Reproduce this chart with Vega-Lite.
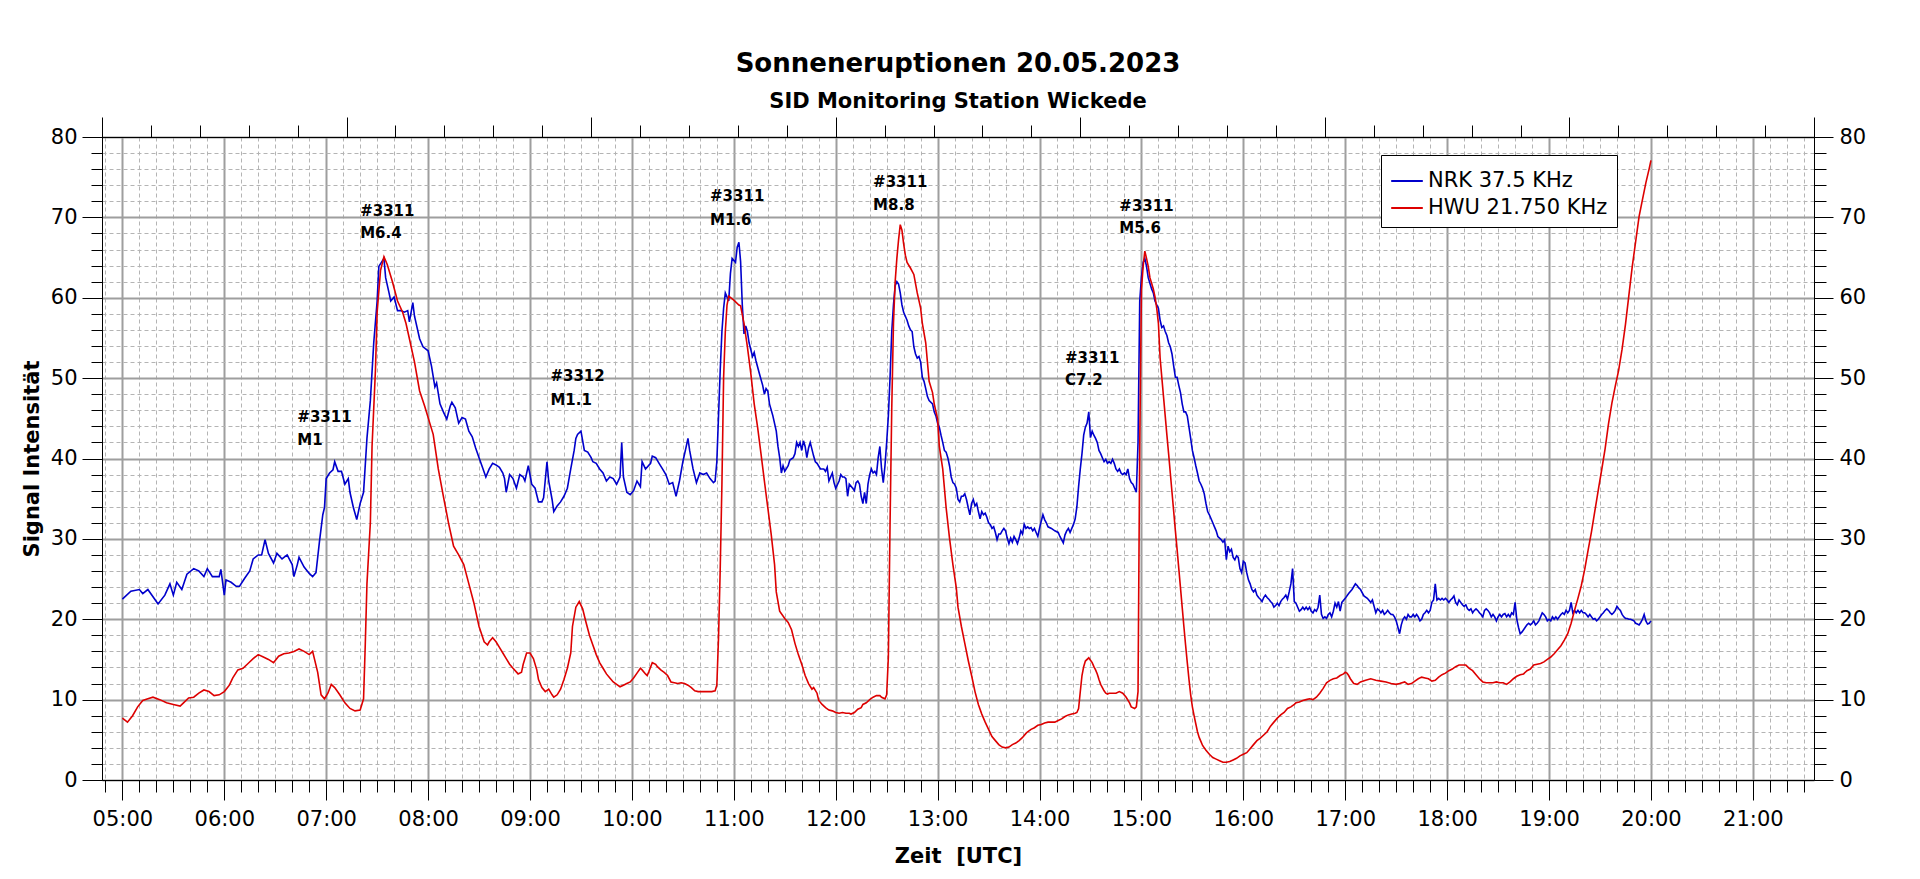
{
  "$schema": "https://vega.github.io/schema/vega-lite/v6.json",
  "width": 1712,
  "height": 643,
  "autosize": "none",
  "padding": {"left": 102, "top": 137, "right": 106, "bottom": 99},
  "background": "white",
  "title": {
    "text": "Sonneneruptionen 20.05.2023",
    "subtitle": "SID Monitoring Station Wickede",
    "anchor": "middle",
    "frame": "group",
    "font": "DejaVu Sans",
    "fontSize": 26,
    "fontWeight": "bold",
    "color": "black",
    "subtitleFont": "DejaVu Sans",
    "subtitleFontSize": 21,
    "subtitleFontWeight": "bold",
    "subtitleColor": "black",
    "subtitlePadding": 14,
    "offset": 5
  },
  "config": {
    "view": {"stroke": "black", "strokeWidth": 1},
    "axis": {
      "labelFont": "DejaVu Sans",
      "labelFontSize": 21,
      "labelColor": "black",
      "domainColor": "black",
      "tickColor": "black",
      "titleFont": "DejaVu Sans",
      "titleFontSize": 21,
      "titleFontWeight": "bold",
      "titleColor": "black"
    }
  },
  "resolve": {"axis": {"x": "independent", "y": "independent"}},
  "layer": [
    {
      "data": {
        "values": [
          {"m":300,"v":22.5},{"m":305,"v":23.5},{"m":310,"v":23.7},{"m":312,"v":23.2},{"m":315,"v":23.7},
          {"m":320,"v":22.2},{"m":321,"v":21.9},{"m":325,"v":23.0},{"m":328,"v":24.4},{"m":330,"v":23.0},
          {"m":332,"v":24.6},{"m":335,"v":23.7},{"m":338,"v":25.6},{"m":342,"v":26.3},{"m":345,"v":26.0},
          {"m":348,"v":25.3},{"m":350,"v":26.3},{"m":353,"v":25.3},{"m":357,"v":25.3},{"m":358,"v":26.2},
          {"m":360,"v":23.0},{"m":361,"v":24.9},{"m":364,"v":24.6},{"m":367,"v":24.1},{"m":369,"v":24.1},
          {"m":372,"v":25.1},{"m":375,"v":26.0},{"m":377,"v":27.5},{"m":380,"v":28.0},{"m":382,"v":28.0},
          {"m":384,"v":29.9},{"m":386,"v":28.2},{"m":389,"v":27.0},{"m":391,"v":28.2},{"m":394,"v":27.5},
          {"m":397,"v":28.0},{"m":400,"v":26.8},{"m":401,"v":25.3},{"m":403,"v":26.8},{"m":404,"v":27.7},
          {"m":407,"v":26.5},{"m":410,"v":25.7},{"m":412,"v":25.3},{"m":414,"v":25.8},{"m":416,"v":29.6},
          {"m":418,"v":33.0},{"m":419,"v":33.9},{"m":420,"v":37.5},{"m":422,"v":38.2},{"m":424,"v":38.6},
          {"m":425,"v":39.6},{"m":427,"v":38.4},{"m":429,"v":38.4},{"m":431,"v":36.8},{"m":433,"v":37.5},
          {"m":434,"v":35.8},{"m":436,"v":33.9},{"m":438,"v":32.4},{"m":440,"v":34.4},{"m":442,"v":35.8},
          {"m":444,"v":42.5},{"m":446,"v":47.2},{"m":448,"v":54.4},{"m":450,"v":59.6},{"m":451,"v":63.9},
          {"m":454,"v":64.9},{"m":455,"v":62.5},{"m":457,"v":60.6},{"m":458,"v":59.6},{"m":460,"v":60.1},
          {"m":462,"v":58.4},{"m":464,"v":58.4},{"m":466,"v":58.2},{"m":468,"v":58.4},{"m":469,"v":57.0},
          {"m":471,"v":59.4},{"m":472,"v":57.7},{"m":475,"v":54.9},{"m":477,"v":53.9},{"m":480,"v":53.4},
          {"m":482,"v":51.5},{"m":484,"v":48.9},{"m":485,"v":49.4},{"m":487,"v":46.8},{"m":489,"v":45.8},
          {"m":491,"v":44.9},{"m":493,"v":46.5},{"m":494,"v":47.0},{"m":496,"v":46.3},{"m":498,"v":44.4},
          {"m":500,"v":45.1},{"m":502,"v":44.9},{"m":504,"v":43.4},{"m":506,"v":42.7},{"m":508,"v":41.3},
          {"m":510,"v":40.1},{"m":512,"v":38.9},{"m":514,"v":37.7},{"m":516,"v":38.7},{"m":518,"v":39.4},
          {"m":520,"v":39.2},{"m":522,"v":38.9},{"m":524,"v":38.2},{"m":525,"v":37.5},{"m":526,"v":35.8},
          {"m":528,"v":38.0},{"m":530,"v":37.5},{"m":532,"v":36.3},{"m":534,"v":38.0},{"m":536,"v":37.7},
          {"m":537,"v":37.2},{"m":539,"v":39.1},{"m":541,"v":36.8},{"m":543,"v":36.3},{"m":545,"v":34.6},
          {"m":547,"v":34.6},{"m":548,"v":35.1},{"m":550,"v":39.6},{"m":551,"v":37.2},{"m":553,"v":34.9},
          {"m":554,"v":33.4},{"m":556,"v":34.1},{"m":558,"v":34.6},{"m":560,"v":35.3},{"m":562,"v":36.3},
          {"m":564,"v":38.7},{"m":566,"v":41.0},{"m":567,"v":42.5},{"m":568,"v":43.0},{"m":570,"v":43.4},
          {"m":572,"v":41.0},{"m":574,"v":40.8},{"m":576,"v":40.1},{"m":577,"v":39.6},{"m":579,"v":39.4},
          {"m":581,"v":38.7},{"m":583,"v":38.2},{"m":585,"v":37.2},{"m":587,"v":37.7},{"m":589,"v":37.5},
          {"m":591,"v":36.8},{"m":593,"v":37.7},{"m":594,"v":42.0},{"m":595,"v":37.7},{"m":597,"v":35.8},
          {"m":599,"v":35.5},{"m":601,"v":36.0},{"m":603,"v":37.2},{"m":605,"v":36.5},{"m":606,"v":39.6},
          {"m":608,"v":38.7},{"m":611,"v":39.4},{"m":612,"v":40.3},{"m":614,"v":40.1},{"m":616,"v":39.4},
          {"m":618,"v":38.7},{"m":620,"v":38.0},{"m":622,"v":36.8},{"m":624,"v":37.0},{"m":626,"v":35.3},
          {"m":628,"v":37.2},{"m":630,"v":39.6},{"m":632,"v":41.5},{"m":633,"v":42.5},{"m":634,"v":41.0},
          {"m":636,"v":38.7},{"m":638,"v":37.0},{"m":640,"v":38.2},{"m":642,"v":38.0},{"m":644,"v":38.2},
          {"m":646,"v":37.5},{"m":648,"v":37.0},{"m":649,"v":37.2},{"m":650,"v":39.6},{"m":651,"v":45.3},
          {"m":652,"v":51.0},{"m":653,"v":55.8},{"m":654,"v":58.7},{"m":655,"v":60.6},{"m":657,"v":59.6},
          {"m":658,"v":63.0},{"m":659,"v":64.9},{"m":661,"v":64.4},{"m":662,"v":66.3},{"m":663,"v":66.9},
          {"m":664,"v":64.5},{"m":665,"v":59.1},{"m":666,"v":55.5},{"m":667,"v":56.5},{"m":668,"v":55.8},
          {"m":669,"v":54.4},{"m":671,"v":52.7},{"m":672,"v":53.2},{"m":673,"v":52.2},{"m":675,"v":50.6},
          {"m":677,"v":49.1},{"m":678,"v":48.0},{"m":679,"v":48.7},{"m":680,"v":48.4},{"m":681,"v":46.8},
          {"m":683,"v":45.3},{"m":685,"v":43.4},{"m":686,"v":41.5},{"m":687,"v":40.1},{"m":688,"v":38.2},
          {"m":689,"v":39.1},{"m":690,"v":38.4},{"m":692,"v":39.1},{"m":693,"v":39.8},{"m":695,"v":40.1},
          {"m":696,"v":40.6},{"m":697,"v":42.0},{"m":698,"v":41.5},{"m":699,"v":42.0},{"m":700,"v":41.0},
          {"m":701,"v":42.2},{"m":702,"v":41.5},{"m":703,"v":40.1},{"m":704,"v":41.3},{"m":705,"v":42.0},
          {"m":707,"v":40.3},{"m":708,"v":39.6},{"m":709,"v":39.4},{"m":711,"v":38.7},{"m":713,"v":38.7},
          {"m":714,"v":38.4},{"m":715,"v":38.9},{"m":716,"v":37.2},{"m":718,"v":38.2},{"m":719,"v":37.0},
          {"m":720,"v":36.3},{"m":722,"v":37.2},{"m":723,"v":38.0},{"m":724,"v":37.7},{"m":725,"v":37.7},
          {"m":726,"v":37.5},{"m":727,"v":35.3},{"m":728,"v":36.8},{"m":730,"v":36.3},{"m":731,"v":36.0},
          {"m":732,"v":37.0},{"m":733,"v":37.2},{"m":734,"v":36.8},{"m":735,"v":35.3},{"m":736,"v":34.4},
          {"m":737,"v":35.8},{"m":738,"v":34.4},{"m":739,"v":36.8},{"m":740,"v":38.0},{"m":741,"v":38.7},
          {"m":742,"v":38.2},{"m":743,"v":38.4},{"m":744,"v":38.0},{"m":745,"v":40.1},{"m":746,"v":41.5},
          {"m":747,"v":38.7},{"m":748,"v":37.0},{"m":749,"v":39.1},{"m":750,"v":42.0},{"m":751,"v":45.3},
          {"m":752,"v":50.1},{"m":753,"v":55.8},{"m":754,"v":59.1},{"m":755,"v":61.5},{"m":756,"v":62.0},
          {"m":757,"v":61.7},{"m":758,"v":60.6},{"m":759,"v":59.1},{"m":760,"v":58.2},{"m":762,"v":57.2},
          {"m":763,"v":56.5},{"m":764,"v":56.0},{"m":765,"v":55.8},{"m":766,"v":53.9},{"m":767,"v":53.0},
          {"m":768,"v":52.5},{"m":769,"v":52.7},{"m":770,"v":52.0},{"m":771,"v":50.1},{"m":772,"v":49.6},
          {"m":773,"v":48.7},{"m":774,"v":47.7},{"m":775,"v":47.2},{"m":777,"v":46.8},{"m":778,"v":45.8},
          {"m":779,"v":45.3},{"m":780,"v":44.4},{"m":781,"v":43.9},{"m":782,"v":42.9},{"m":783,"v":42.0},
          {"m":784,"v":41.0},{"m":785,"v":40.8},{"m":786,"v":40.1},{"m":787,"v":39.1},{"m":788,"v":37.7},
          {"m":789,"v":37.0},{"m":790,"v":36.8},{"m":791,"v":36.3},{"m":792,"v":34.9},{"m":793,"v":34.6},
          {"m":794,"v":35.3},{"m":795,"v":35.3},{"m":796,"v":35.6},{"m":797,"v":34.9},{"m":798,"v":33.9},
          {"m":799,"v":33.0},{"m":800,"v":34.4},{"m":801,"v":34.9},{"m":802,"v":34.1},{"m":803,"v":34.4},
          {"m":804,"v":33.4},{"m":805,"v":32.5},{"m":806,"v":33.4},{"m":807,"v":33.0},{"m":808,"v":33.2},
          {"m":809,"v":32.7},{"m":810,"v":32.0},{"m":811,"v":31.8},{"m":812,"v":31.3},{"m":813,"v":31.5},
          {"m":814,"v":30.8},{"m":815,"v":29.9},{"m":816,"v":30.6},{"m":817,"v":30.6},{"m":818,"v":31.0},
          {"m":819,"v":31.3},{"m":820,"v":31.0},{"m":821,"v":30.1},{"m":822,"v":29.4},{"m":823,"v":30.1},
          {"m":824,"v":29.6},{"m":825,"v":30.3},{"m":826,"v":29.9},{"m":827,"v":29.4},{"m":828,"v":30.1},
          {"m":829,"v":31.0},{"m":830,"v":30.6},{"m":831,"v":31.8},{"m":832,"v":31.3},{"m":833,"v":31.5},
          {"m":834,"v":31.3},{"m":835,"v":31.4},{"m":836,"v":31.0},{"m":837,"v":31.3},{"m":838,"v":30.8},
          {"m":839,"v":30.3},{"m":840,"v":31.3},{"m":841,"v":32.2},{"m":842,"v":33.0},{"m":843,"v":32.4},
          {"m":844,"v":32.0},{"m":845,"v":31.5},{"m":847,"v":31.3},{"m":849,"v":31.0},{"m":851,"v":30.8},
          {"m":852,"v":30.3},{"m":854,"v":29.5},{"m":855,"v":30.5},{"m":856,"v":31.0},{"m":857,"v":31.3},
          {"m":858,"v":30.8},{"m":859,"v":31.3},{"m":860,"v":31.8},{"m":861,"v":32.5},{"m":862,"v":34.0},
          {"m":863,"v":36.5},{"m":864,"v":38.7},{"m":865,"v":40.6},{"m":866,"v":42.9},{"m":867,"v":43.9},
          {"m":868,"v":44.4},{"m":869,"v":45.8},{"m":870,"v":42.6},{"m":871,"v":43.4},{"m":872,"v":42.9},
          {"m":873,"v":42.5},{"m":874,"v":42.0},{"m":875,"v":41.0},{"m":876,"v":40.6},{"m":877,"v":40.1},
          {"m":878,"v":39.6},{"m":879,"v":39.9},{"m":880,"v":39.4},{"m":881,"v":39.6},{"m":882,"v":39.4},
          {"m":883,"v":39.9},{"m":884,"v":39.4},{"m":885,"v":38.7},{"m":886,"v":38.4},{"m":887,"v":38.7},
          {"m":888,"v":38.2},{"m":889,"v":38.0},{"m":890,"v":38.2},{"m":891,"v":38.0},{"m":892,"v":38.7},
          {"m":893,"v":37.5},{"m":894,"v":37.0},{"m":895,"v":36.8},{"m":896,"v":36.3},{"m":897,"v":35.8},
          {"m":898,"v":42.0},{"m":899,"v":59.6},{"m":900,"v":62.5},{"m":901,"v":64.4},{"m":902,"v":64.9},
          {"m":903,"v":63.9},{"m":904,"v":62.5},{"m":905,"v":61.8},{"m":906,"v":61.1},{"m":907,"v":60.6},
          {"m":908,"v":59.6},{"m":909,"v":59.1},{"m":910,"v":58.7},{"m":911,"v":57.2},{"m":912,"v":56.3},
          {"m":913,"v":56.5},{"m":914,"v":55.8},{"m":915,"v":55.3},{"m":916,"v":54.4},{"m":917,"v":53.9},
          {"m":918,"v":53.0},{"m":919,"v":51.5},{"m":920,"v":50.1},{"m":921,"v":50.1},{"m":922,"v":49.1},
          {"m":923,"v":48.2},{"m":924,"v":46.8},{"m":925,"v":45.8},{"m":926,"v":45.8},{"m":927,"v":45.3},
          {"m":928,"v":43.9},{"m":929,"v":42.5},{"m":930,"v":41.0},{"m":931,"v":40.1},{"m":932,"v":39.1},
          {"m":933,"v":38.2},{"m":934,"v":37.2},{"m":935,"v":36.8},{"m":936,"v":36.3},{"m":937,"v":35.6},
          {"m":938,"v":34.4},{"m":939,"v":33.4},{"m":940,"v":33.0},{"m":941,"v":32.5},{"m":942,"v":32.0},
          {"m":943,"v":31.5},{"m":944,"v":31.0},{"m":945,"v":30.3},{"m":946,"v":30.1},{"m":947,"v":29.9},
          {"m":948,"v":29.6},{"m":949,"v":29.9},{"m":950,"v":27.4},{"m":951,"v":29.1},{"m":952,"v":28.4},
          {"m":953,"v":28.7},{"m":954,"v":27.7},{"m":955,"v":27.4},{"m":956,"v":27.9},{"m":957,"v":27.7},
          {"m":958,"v":26.3},{"m":959,"v":25.8},{"m":960,"v":27.2},{"m":961,"v":27.0},{"m":962,"v":25.8},
          {"m":963,"v":24.9},{"m":964,"v":24.4},{"m":965,"v":23.7},{"m":966,"v":23.4},{"m":967,"v":23.7},
          {"m":968,"v":23.0},{"m":969,"v":22.7},{"m":970,"v":22.5},{"m":971,"v":22.2},{"m":972,"v":22.7},
          {"m":973,"v":23.0},{"m":974,"v":22.7},{"m":975,"v":22.5},{"m":976,"v":22.2},{"m":977,"v":22.0},
          {"m":978,"v":21.5},{"m":979,"v":21.7},{"m":980,"v":22.0},{"m":981,"v":21.7},{"m":982,"v":22.2},
          {"m":983,"v":22.5},{"m":984,"v":22.7},{"m":985,"v":23.0},{"m":986,"v":22.5},{"m":987,"v":23.4},
          {"m":988,"v":24.4},{"m":989,"v":26.3},{"m":990,"v":22.2},{"m":991,"v":22.0},{"m":992,"v":21.5},
          {"m":993,"v":21.0},{"m":994,"v":21.2},{"m":995,"v":21.5},{"m":996,"v":21.2},{"m":997,"v":21.5},
          {"m":998,"v":21.2},{"m":999,"v":21.5},{"m":1000,"v":21.0},{"m":1001,"v":20.8},{"m":1002,"v":21.2},
          {"m":1003,"v":21.0},{"m":1004,"v":21.5},{"m":1005,"v":23.0},{"m":1006,"v":20.6},{"m":1007,"v":20.1},
          {"m":1008,"v":20.3},{"m":1009,"v":20.1},{"m":1010,"v":20.6},{"m":1011,"v":20.8},{"m":1012,"v":20.3},
          {"m":1013,"v":21.0},{"m":1014,"v":22.0},{"m":1015,"v":21.5},{"m":1016,"v":22.2},{"m":1017,"v":21.0},
          {"m":1018,"v":22.1},{"m":1020,"v":22.6},{"m":1022,"v":23.2},{"m":1024,"v":23.7},{"m":1026,"v":24.4},
          {"m":1027,"v":24.2},{"m":1028,"v":23.9},{"m":1029,"v":23.7},{"m":1031,"v":22.9},{"m":1033,"v":22.6},
          {"m":1035,"v":22.1},{"m":1036,"v":22.4},{"m":1037,"v":21.6},{"m":1038,"v":20.8},{"m":1039,"v":21.3},
          {"m":1040,"v":21.1},{"m":1041,"v":20.8},{"m":1042,"v":21.1},{"m":1043,"v":20.6},{"m":1044,"v":20.8},
          {"m":1045,"v":21.1},{"m":1046,"v":20.8},{"m":1047,"v":20.6},{"m":1048,"v":20.6},{"m":1049,"v":20.3},
          {"m":1050,"v":19.8},{"m":1051,"v":19.0},{"m":1052,"v":18.2},{"m":1053,"v":19.3},{"m":1054,"v":20.0},
          {"m":1055,"v":20.3},{"m":1056,"v":20.0},{"m":1057,"v":20.6},{"m":1058,"v":20.3},{"m":1059,"v":20.3},
          {"m":1060,"v":20.6},{"m":1061,"v":20.3},{"m":1062,"v":20.6},{"m":1063,"v":20.3},{"m":1064,"v":19.8},
          {"m":1065,"v":20.0},{"m":1066,"v":20.6},{"m":1067,"v":20.8},{"m":1068,"v":21.1},{"m":1069,"v":20.8},
          {"m":1070,"v":21.1},{"m":1071,"v":22.1},{"m":1072,"v":22.4},{"m":1073,"v":24.4},{"m":1074,"v":22.4},
          {"m":1075,"v":22.6},{"m":1076,"v":22.4},{"m":1077,"v":22.6},{"m":1078,"v":22.4},{"m":1079,"v":22.6},
          {"m":1080,"v":22.4},{"m":1081,"v":22.1},{"m":1082,"v":22.4},{"m":1083,"v":22.6},{"m":1084,"v":22.9},
          {"m":1085,"v":22.1},{"m":1086,"v":21.8},{"m":1087,"v":22.4},{"m":1088,"v":22.1},{"m":1089,"v":21.8},
          {"m":1090,"v":21.6},{"m":1091,"v":21.8},{"m":1092,"v":21.3},{"m":1093,"v":21.1},{"m":1094,"v":21.3},
          {"m":1095,"v":20.8},{"m":1096,"v":21.1},{"m":1097,"v":21.3},{"m":1098,"v":21.1},{"m":1099,"v":20.8},
          {"m":1100,"v":20.6},{"m":1101,"v":20.3},{"m":1102,"v":21.1},{"m":1103,"v":21.3},{"m":1104,"v":21.1},
          {"m":1105,"v":20.8},{"m":1106,"v":20.3},{"m":1107,"v":20.6},{"m":1108,"v":20.3},{"m":1109,"v":19.8},
          {"m":1110,"v":20.3},{"m":1111,"v":20.6},{"m":1112,"v":20.3},{"m":1113,"v":20.6},{"m":1114,"v":20.7},
          {"m":1115,"v":20.3},{"m":1116,"v":20.6},{"m":1117,"v":20.3},{"m":1118,"v":20.8},{"m":1119,"v":20.6},
          {"m":1120,"v":22.1},{"m":1121,"v":20.0},{"m":1122,"v":19.0},{"m":1123,"v":18.2},{"m":1124,"v":18.4},
          {"m":1125,"v":18.7},{"m":1126,"v":19.0},{"m":1127,"v":19.3},{"m":1128,"v":19.5},{"m":1129,"v":19.3},
          {"m":1130,"v":19.5},{"m":1131,"v":19.8},{"m":1132,"v":19.3},{"m":1133,"v":19.5},{"m":1134,"v":19.8},
          {"m":1135,"v":20.3},{"m":1136,"v":20.8},{"m":1137,"v":20.6},{"m":1138,"v":20.3},{"m":1139,"v":19.8},
          {"m":1140,"v":20.0},{"m":1141,"v":19.8},{"m":1142,"v":20.3},{"m":1143,"v":20.0},{"m":1144,"v":20.3},
          {"m":1145,"v":20.0},{"m":1146,"v":20.3},{"m":1147,"v":20.6},{"m":1148,"v":20.8},{"m":1149,"v":20.6},
          {"m":1150,"v":21.1},{"m":1151,"v":20.8},{"m":1152,"v":21.1},{"m":1153,"v":22.1},{"m":1154,"v":20.8},
          {"m":1155,"v":21.1},{"m":1156,"v":20.8},{"m":1157,"v":21.1},{"m":1158,"v":20.8},{"m":1159,"v":21.1},
          {"m":1160,"v":20.8},{"m":1161,"v":20.8},{"m":1162,"v":20.6},{"m":1163,"v":20.3},{"m":1164,"v":20.6},
          {"m":1165,"v":20.3},{"m":1166,"v":20.0},{"m":1167,"v":20.1},{"m":1168,"v":19.8},{"m":1169,"v":20.0},
          {"m":1170,"v":20.3},{"m":1171,"v":20.6},{"m":1172,"v":20.8},{"m":1173,"v":21.1},{"m":1174,"v":21.3},
          {"m":1175,"v":21.1},{"m":1176,"v":20.8},{"m":1177,"v":20.6},{"m":1178,"v":20.8},{"m":1179,"v":21.1},
          {"m":1180,"v":21.6},{"m":1181,"v":21.3},{"m":1182,"v":21.1},{"m":1183,"v":20.6},{"m":1184,"v":20.3},
          {"m":1185,"v":20.1},{"m":1186,"v":20.1},{"m":1187,"v":20.0},{"m":1188,"v":20.0},{"m":1189,"v":19.9},
          {"m":1190,"v":19.8},{"m":1191,"v":19.5},{"m":1192,"v":19.4},{"m":1193,"v":19.3},{"m":1194,"v":19.6},
          {"m":1195,"v":20.0},{"m":1196,"v":20.6},{"m":1197,"v":19.8},{"m":1198,"v":19.4},{"m":1199,"v":19.5},
          {"m":1200,"v":19.8}
        ]
      },
      "mark": {"type": "line", "strokeWidth": 1.6},
      "encoding": {
        "x": {
          "field": "m",
          "type": "quantitative",
          "scale": {"domain": [288, 1296], "nice": false, "zero": false},
          "axis": {
            "orient": "bottom",
            "title": "Zeit\u00a0 [UTC]",
            "titlePadding": 16,
            "values": [300, 360, 420, 480, 540, 600, 660, 720, 780, 840, 900, 960, 1020, 1080, 1140, 1200, 1260],
            "labelExpr": "(datum.value < 600 ? '0' : '') + (datum.value / 60) + ':00'",
            "labelFlush": false,
            "labelOverlap": false,
            "labelPadding": 8,
            "tickSize": 20,
            "grid": true,
            "gridColor": "#9e9e9e",
            "gridWidth": 2
          }
        },
        "y": {
          "field": "v",
          "type": "quantitative",
          "scale": {"domain": [0, 80], "nice": false, "zero": false},
          "axis": {
            "orient": "left",
            "title": "Signal Intensität",
            "titlePadding": 8,
            "values": [0, 10, 20, 30, 40, 50, 60, 70, 80],
            "labelOverlap": false,
            "labelPadding": 5,
            "tickSize": 20,
            "grid": true,
            "gridColor": "#9e9e9e",
            "gridWidth": 2
          }
        },
        "color": {
          "datum": "NRK 37.5 KHz",
          "type": "nominal",
          "scale": {"domain": ["NRK 37.5 KHz", "HWU 21.750 KHz"], "range": ["#0000cc", "#dd0000"]},
          "legend": {
            "title": null,
            "orient": "none",
            "legendX": 1279,
            "legendY": 18,
            "strokeColor": "black",
            "fillColor": "white",
            "padding": 9,
            "cornerRadius": 0,
            "symbolType": "stroke",
            "symbolStrokeWidth": 2,
            "symbolSize": 1000,
            "labelFont": "DejaVu Sans",
            "labelFontSize": 21,
            "labelColor": "black",
            "labelLimit": 400,
            "labelOffset": 4,
            "rowPadding": 0
          }
        }
      }
    },
    {
      "data": {
        "values": [
          {"m":300,"v":7.7},{"m":303,"v":7.2},{"m":306,"v":8.0},{"m":309,"v":9.1},{"m":312,"v":9.9},
          {"m":315,"v":10.1},{"m":318,"v":10.3},{"m":322,"v":10.0},{"m":326,"v":9.6},{"m":330,"v":9.4},
          {"m":334,"v":9.2},{"m":336,"v":9.6},{"m":339,"v":10.2},{"m":342,"v":10.3},{"m":345,"v":10.8},
          {"m":348,"v":11.2},{"m":351,"v":11.0},{"m":354,"v":10.5},{"m":357,"v":10.6},{"m":360,"v":11.0},
          {"m":363,"v":11.8},{"m":365,"v":12.7},{"m":368,"v":13.7},{"m":371,"v":13.9},{"m":374,"v":14.5},
          {"m":377,"v":15.1},{"m":380,"v":15.6},{"m":383,"v":15.3},{"m":386,"v":15.0},{"m":389,"v":14.6},
          {"m":392,"v":15.4},{"m":395,"v":15.7},{"m":398,"v":15.8},{"m":401,"v":16.0},{"m":404,"v":16.3},
          {"m":407,"v":16.0},{"m":410,"v":15.6},{"m":412,"v":16.0},{"m":415,"v":13.4},{"m":417,"v":10.6},
          {"m":419,"v":10.1},{"m":421,"v":10.8},{"m":423,"v":11.9},{"m":425,"v":11.5},{"m":428,"v":10.6},
          {"m":431,"v":9.6},{"m":434,"v":8.9},{"m":437,"v":8.6},{"m":440,"v":8.7},{"m":442,"v":10.1},
          {"m":443,"v":16.8},{"m":444,"v":24.4},{"m":446,"v":32.0},{"m":447,"v":41.5},{"m":449,"v":51.0},
          {"m":450,"v":58.2},{"m":452,"v":63.4},{"m":454,"v":65.1},{"m":456,"v":64.1},{"m":459,"v":62.0},
          {"m":462,"v":59.6},{"m":465,"v":58.2},{"m":467,"v":56.8},{"m":469,"v":54.9},{"m":472,"v":52.0},
          {"m":475,"v":48.4},{"m":478,"v":46.5},{"m":481,"v":44.4},{"m":483,"v":43.0},{"m":486,"v":38.7},
          {"m":489,"v":35.3},{"m":492,"v":32.0},{"m":495,"v":29.1},{"m":498,"v":28.0},{"m":501,"v":26.8},
          {"m":504,"v":24.4},{"m":507,"v":22.0},{"m":510,"v":19.1},{"m":513,"v":17.2},{"m":515,"v":16.8},
          {"m":516,"v":17.2},{"m":518,"v":17.7},{"m":520,"v":17.2},{"m":522,"v":16.5},{"m":524,"v":15.8},
          {"m":526,"v":15.1},{"m":528,"v":14.4},{"m":530,"v":13.9},{"m":533,"v":13.2},{"m":535,"v":13.4},
          {"m":536,"v":14.4},{"m":538,"v":15.8},{"m":540,"v":15.8},{"m":542,"v":15.1},{"m":544,"v":13.7},
          {"m":545,"v":12.5},{"m":547,"v":11.5},{"m":549,"v":11.0},{"m":551,"v":11.3},{"m":553,"v":10.6},
          {"m":554,"v":10.3},{"m":556,"v":10.6},{"m":558,"v":11.3},{"m":560,"v":12.5},{"m":562,"v":13.9},
          {"m":564,"v":15.8},{"m":565,"v":19.1},{"m":567,"v":21.5},{"m":569,"v":22.2},{"m":571,"v":21.3},
          {"m":573,"v":19.6},{"m":575,"v":18.0},{"m":577,"v":16.8},{"m":579,"v":15.6},{"m":581,"v":14.6},
          {"m":583,"v":13.9},{"m":585,"v":13.2},{"m":587,"v":12.7},{"m":589,"v":12.2},{"m":591,"v":11.9},
          {"m":593,"v":11.6},{"m":595,"v":11.8},{"m":597,"v":12.0},{"m":599,"v":12.2},{"m":601,"v":12.7},
          {"m":603,"v":13.3},{"m":605,"v":13.9},{"m":606,"v":13.7},{"m":608,"v":13.2},{"m":609,"v":13.0},
          {"m":610,"v":13.5},{"m":612,"v":14.6},{"m":614,"v":14.4},{"m":615,"v":14.1},{"m":617,"v":13.7},
          {"m":619,"v":13.4},{"m":621,"v":13.0},{"m":623,"v":12.2},{"m":625,"v":12.1},{"m":627,"v":12.0},
          {"m":629,"v":12.1},{"m":631,"v":12.0},{"m":633,"v":11.8},{"m":635,"v":11.5},{"m":637,"v":11.1},
          {"m":639,"v":11.0},{"m":641,"v":11.0},{"m":643,"v":11.0},{"m":645,"v":11.0},{"m":647,"v":11.0},
          {"m":649,"v":11.1},{"m":650,"v":11.8},{"m":651,"v":17.7},{"m":652,"v":26.3},{"m":653,"v":36.8},
          {"m":654,"v":50.1},{"m":655,"v":55.8},{"m":656,"v":59.1},{"m":657,"v":60.2},{"m":660,"v":59.7},
          {"m":663,"v":59.1},{"m":664,"v":59.0},{"m":666,"v":56.8},{"m":668,"v":53.9},{"m":670,"v":50.6},
          {"m":672,"v":46.8},{"m":674,"v":43.9},{"m":676,"v":40.6},{"m":678,"v":37.2},{"m":680,"v":33.9},
          {"m":682,"v":30.6},{"m":684,"v":26.8},{"m":685,"v":23.4},{"m":687,"v":21.0},{"m":690,"v":20.1},
          {"m":692,"v":19.6},{"m":694,"v":18.7},{"m":696,"v":17.0},{"m":698,"v":15.6},{"m":700,"v":14.4},
          {"m":702,"v":13.0},{"m":704,"v":12.0},{"m":706,"v":11.3},{"m":707,"v":11.5},{"m":709,"v":10.8},
          {"m":710,"v":9.9},{"m":712,"v":9.4},{"m":714,"v":9.0},{"m":716,"v":8.7},{"m":718,"v":8.6},
          {"m":720,"v":8.4},{"m":722,"v":8.3},{"m":724,"v":8.4},{"m":726,"v":8.3},{"m":728,"v":8.3},
          {"m":729,"v":8.2},{"m":731,"v":8.4},{"m":733,"v":8.8},{"m":735,"v":9.0},{"m":736,"v":9.4},
          {"m":738,"v":9.6},{"m":740,"v":10.0},{"m":742,"v":10.3},{"m":744,"v":10.5},{"m":746,"v":10.5},
          {"m":747,"v":10.3},{"m":749,"v":10.1},{"m":750,"v":10.6},{"m":751,"v":15.3},{"m":752,"v":32.0},
          {"m":753,"v":46.3},{"m":754,"v":56.8},{"m":755,"v":62.0},{"m":756,"v":64.9},{"m":757,"v":67.2},
          {"m":758,"v":69.1},{"m":759,"v":68.4},{"m":760,"v":66.7},{"m":761,"v":65.3},{"m":762,"v":64.4},
          {"m":764,"v":63.7},{"m":766,"v":62.9},{"m":768,"v":60.6},{"m":770,"v":58.7},{"m":771,"v":56.8},
          {"m":773,"v":54.4},{"m":774,"v":52.0},{"m":775,"v":49.6},{"m":777,"v":48.2},{"m":778,"v":46.8},
          {"m":780,"v":44.9},{"m":781,"v":41.5},{"m":783,"v":38.7},{"m":785,"v":33.9},{"m":787,"v":30.1},
          {"m":789,"v":26.8},{"m":791,"v":23.9},{"m":792,"v":21.5},{"m":794,"v":19.1},{"m":796,"v":17.0},
          {"m":798,"v":14.9},{"m":800,"v":13.0},{"m":802,"v":11.0},{"m":804,"v":9.4},{"m":806,"v":8.2},
          {"m":808,"v":7.2},{"m":810,"v":6.3},{"m":812,"v":5.4},{"m":814,"v":4.9},{"m":816,"v":4.4},
          {"m":818,"v":4.1},{"m":820,"v":4.0},{"m":822,"v":4.1},{"m":824,"v":4.4},{"m":826,"v":4.6},
          {"m":828,"v":4.9},{"m":830,"v":5.3},{"m":832,"v":5.8},{"m":833,"v":6.0},{"m":835,"v":6.3},
          {"m":837,"v":6.5},{"m":839,"v":6.8},{"m":841,"v":6.9},{"m":843,"v":7.1},{"m":845,"v":7.2},
          {"m":847,"v":7.2},{"m":849,"v":7.2},{"m":851,"v":7.4},{"m":853,"v":7.6},{"m":855,"v":7.9},
          {"m":857,"v":8.1},{"m":859,"v":8.2},{"m":861,"v":8.3},{"m":862,"v":8.4},{"m":863,"v":8.9},
          {"m":864,"v":11.0},{"m":865,"v":13.0},{"m":866,"v":14.1},{"m":867,"v":14.8},{"m":869,"v":15.2},
          {"m":870,"v":14.9},{"m":871,"v":14.6},{"m":872,"v":14.1},{"m":873,"v":13.7},{"m":874,"v":13.2},
          {"m":875,"v":12.5},{"m":876,"v":11.9},{"m":877,"v":11.5},{"m":878,"v":11.1},{"m":879,"v":10.8},
          {"m":880,"v":10.7},{"m":881,"v":10.8},{"m":883,"v":10.8},{"m":885,"v":10.8},{"m":887,"v":11.0},
          {"m":889,"v":10.8},{"m":891,"v":10.3},{"m":893,"v":9.6},{"m":894,"v":9.1},{"m":896,"v":8.9},
          {"m":897,"v":9.1},{"m":898,"v":11.0},{"m":899,"v":41.5},{"m":900,"v":61.0},{"m":901,"v":63.9},
          {"m":902,"v":65.8},{"m":903,"v":64.9},{"m":904,"v":63.9},{"m":905,"v":62.5},{"m":906,"v":61.8},
          {"m":907,"v":61.1},{"m":908,"v":60.1},{"m":909,"v":58.7},{"m":910,"v":56.8},{"m":911,"v":52.5},
          {"m":912,"v":50.1},{"m":913,"v":47.7},{"m":914,"v":45.3},{"m":915,"v":42.9},{"m":916,"v":40.6},
          {"m":917,"v":38.2},{"m":918,"v":35.8},{"m":919,"v":33.4},{"m":920,"v":31.0},{"m":921,"v":28.7},
          {"m":922,"v":26.3},{"m":923,"v":23.9},{"m":924,"v":21.5},{"m":925,"v":19.1},{"m":926,"v":16.8},
          {"m":927,"v":14.6},{"m":928,"v":12.5},{"m":929,"v":10.6},{"m":930,"v":9.1},{"m":931,"v":8.0},
          {"m":932,"v":7.0},{"m":933,"v":6.0},{"m":934,"v":5.3},{"m":935,"v":4.8},{"m":936,"v":4.3},
          {"m":938,"v":3.7},{"m":940,"v":3.2},{"m":942,"v":2.8},{"m":944,"v":2.6},{"m":946,"v":2.4},
          {"m":948,"v":2.2},{"m":950,"v":2.2},{"m":952,"v":2.3},{"m":954,"v":2.5},{"m":956,"v":2.7},
          {"m":958,"v":3.0},{"m":960,"v":3.2},{"m":962,"v":3.4},{"m":964,"v":3.9},{"m":966,"v":4.4},
          {"m":968,"v":4.9},{"m":970,"v":5.2},{"m":972,"v":5.6},{"m":974,"v":6.0},{"m":976,"v":6.7},
          {"m":978,"v":7.2},{"m":980,"v":7.7},{"m":982,"v":8.1},{"m":984,"v":8.4},{"m":986,"v":8.9},
          {"m":988,"v":9.1},{"m":990,"v":9.4},{"m":991,"v":9.6},{"m":993,"v":9.7},{"m":995,"v":9.9},
          {"m":997,"v":10.0},{"m":999,"v":10.1},{"m":1001,"v":10.0},{"m":1003,"v":10.3},{"m":1005,"v":10.8},
          {"m":1007,"v":11.4},{"m":1009,"v":12.1},{"m":1011,"v":12.4},{"m":1013,"v":12.6},{"m":1015,"v":12.7},
          {"m":1017,"v":13.0},{"m":1019,"v":13.2},{"m":1020,"v":13.4},{"m":1021,"v":13.3},{"m":1022,"v":13.0},
          {"m":1023,"v":12.6},{"m":1025,"v":12.0},{"m":1027,"v":11.9},{"m":1029,"v":12.2},{"m":1032,"v":12.4},
          {"m":1035,"v":12.6},{"m":1038,"v":12.4},{"m":1041,"v":12.3},{"m":1044,"v":12.2},{"m":1047,"v":12.0},
          {"m":1050,"v":11.9},{"m":1052,"v":12.0},{"m":1055,"v":12.2},{"m":1057,"v":11.9},{"m":1059,"v":12.0},
          {"m":1061,"v":12.3},{"m":1063,"v":12.6},{"m":1065,"v":12.8},{"m":1067,"v":12.7},{"m":1069,"v":12.6},
          {"m":1071,"v":12.3},{"m":1073,"v":12.4},{"m":1075,"v":12.8},{"m":1077,"v":13.1},{"m":1079,"v":13.3},
          {"m":1081,"v":13.6},{"m":1083,"v":13.8},{"m":1085,"v":14.1},{"m":1087,"v":14.3},{"m":1089,"v":14.3},
          {"m":1091,"v":14.3},{"m":1093,"v":13.9},{"m":1095,"v":13.6},{"m":1097,"v":13.1},{"m":1099,"v":12.6},
          {"m":1101,"v":12.2},{"m":1103,"v":12.1},{"m":1105,"v":12.1},{"m":1107,"v":12.1},{"m":1109,"v":12.2},
          {"m":1111,"v":12.1},{"m":1113,"v":12.1},{"m":1115,"v":11.9},{"m":1117,"v":12.2},{"m":1119,"v":12.6},
          {"m":1121,"v":12.9},{"m":1123,"v":13.1},{"m":1125,"v":13.2},{"m":1127,"v":13.6},{"m":1129,"v":13.8},
          {"m":1131,"v":14.3},{"m":1133,"v":14.4},{"m":1135,"v":14.5},{"m":1137,"v":14.7},{"m":1139,"v":15.0},
          {"m":1141,"v":15.3},{"m":1143,"v":15.7},{"m":1145,"v":16.2},{"m":1147,"v":16.7},{"m":1149,"v":17.4},
          {"m":1151,"v":18.2},{"m":1153,"v":19.5},{"m":1155,"v":21.1},{"m":1157,"v":22.6},{"m":1159,"v":24.2},
          {"m":1161,"v":26.2},{"m":1163,"v":28.6},{"m":1165,"v":30.9},{"m":1167,"v":33.5},{"m":1169,"v":36.1},
          {"m":1171,"v":38.6},{"m":1173,"v":41.2},{"m":1175,"v":44.3},{"m":1177,"v":46.9},{"m":1179,"v":49.0},
          {"m":1181,"v":51.0},{"m":1183,"v":53.6},{"m":1185,"v":56.7},{"m":1187,"v":60.3},{"m":1189,"v":63.9},
          {"m":1191,"v":67.0},{"m":1193,"v":70.1},{"m":1195,"v":72.2},{"m":1197,"v":74.3},{"m":1199,"v":76.1},
          {"m":1200,"v":77.1}
        ]
      },
      "mark": {"type": "line", "strokeWidth": 1.6},
      "encoding": {
        "x": {
          "field": "m",
          "type": "quantitative",
          "scale": {"domain": [288, 1296], "nice": false, "zero": false},
          "axis": {
            "orient": "bottom",
            "title": null,
            "labels": false,
            "domain": false,
            "values": [290,310,320,330,340,350,370,380,390,400,410,430,440,450,460,470,490,500,510,520,530,550,560,570,580,590,610,620,630,640,650,670,680,690,700,710,730,740,750,760,770,790,800,810,820,830,850,860,870,880,890,910,920,930,940,950,970,980,990,1000,1010,1030,1040,1050,1060,1070,1090,1100,1110,1120,1130,1150,1160,1170,1180,1190,1210,1220,1230,1240,1250,1270,1280,1290],
            "tickSize": 12,
            "grid": true,
            "gridColor": "#b4b4b4",
            "gridWidth": 1,
            "gridDash": [4, 3]
          }
        },
        "y": {
          "field": "v",
          "type": "quantitative",
          "scale": {"domain": [0, 80], "nice": false, "zero": false},
          "axis": {
            "orient": "left",
            "title": null,
            "labels": false,
            "domain": false,
            "values": [2,4,6,8,12,14,16,18,22,24,26,28,32,34,36,38,42,44,46,48,52,54,56,58,62,64,66,68,72,74,76,78],
            "tickSize": 11,
            "grid": true,
            "gridColor": "#b4b4b4",
            "gridWidth": 1,
            "gridDash": [4, 3]
          }
        },
        "color": {
          "datum": "HWU 21.750 KHz",
          "type": "nominal",
          "scale": {"domain": ["NRK 37.5 KHz", "HWU 21.750 KHz"], "range": ["#0000cc", "#dd0000"]}
        }
      }
    },
    {
      "data": {
        "values": [
          {"m":403,"v":44.5,"label":"#3311"},
          {"m":440,"v":70.2,"label":"#3311"},
          {"m":552,"v":49.6,"label":"#3312"},
          {"m":646,"v":72.0,"label":"#3311"},
          {"m":742,"v":73.8,"label":"#3311"},
          {"m":855,"v":51.9,"label":"#3311"},
          {"m":887,"v":70.8,"label":"#3311"}
        ]
      },
      "mark": {"type": "text", "align": "left", "baseline": "alphabetic", "font": "DejaVu Sans", "fontSize": 15, "fontWeight": "bold", "color": "black"},
      "encoding": {
        "x": {
          "field": "m",
          "type": "quantitative",
          "scale": {"domain": [288, 1296], "nice": false, "zero": false},
          "axis": {
            "orient": "top",
            "title": null,
            "labels": false,
            "grid": false,
            "tickSize": 12,
            "values": [316.8,345.6,374.4,403.2,460.8,489.6,518.4,547.2,604.8,633.6,662.4,691.2,748.8,777.6,806.4,835.2,892.8,921.6,950.4,979.2,1036.8,1065.6,1094.4,1123.2,1180.8,1209.6,1238.4,1267.2]
          }
        },
        "y": {
          "field": "v",
          "type": "quantitative",
          "scale": {"domain": [0, 80], "nice": false, "zero": false},
          "axis": {
            "orient": "right",
            "title": null,
            "grid": false,
            "values": [0, 10, 20, 30, 40, 50, 60, 70, 80],
            "labelOverlap": false,
            "labelPadding": 6,
            "tickSize": 19
          }
        },
        "text": {"field": "label", "type": "nominal"}
      }
    },
    {
      "data": {
        "values": [
          {"m":403,"v":41.7,"label":"M1"},
          {"m":440,"v":67.4,"label":"M6.4"},
          {"m":552,"v":46.7,"label":"M1.1"},
          {"m":646,"v":69.1,"label":"M1.6"},
          {"m":742,"v":70.9,"label":"M8.8"},
          {"m":855,"v":49.1,"label":"C7.2"},
          {"m":887,"v":68.0,"label":"M5.6"}
        ]
      },
      "mark": {"type": "text", "align": "left", "baseline": "alphabetic", "font": "DejaVu Sans", "fontSize": 15, "fontWeight": "bold", "color": "black"},
      "encoding": {
        "x": {
          "field": "m",
          "type": "quantitative",
          "scale": {"domain": [288, 1296], "nice": false, "zero": false},
          "axis": {
            "orient": "top",
            "title": null,
            "labels": false,
            "grid": false,
            "tickSize": 20,
            "values": [288, 432, 576, 720, 864, 1008, 1152, 1296]
          }
        },
        "y": {
          "field": "v",
          "type": "quantitative",
          "scale": {"domain": [0, 80], "nice": false, "zero": false},
          "axis": {
            "orient": "right",
            "title": null,
            "labels": false,
            "grid": false,
            "domain": false,
            "values": [2,4,6,8,12,14,16,18,22,24,26,28,32,34,36,38,42,44,46,48,52,54,56,58,62,64,66,68,72,74,76,78],
            "tickSize": 12
          }
        },
        "text": {"field": "label", "type": "nominal"}
      }
    }
  ]
}
